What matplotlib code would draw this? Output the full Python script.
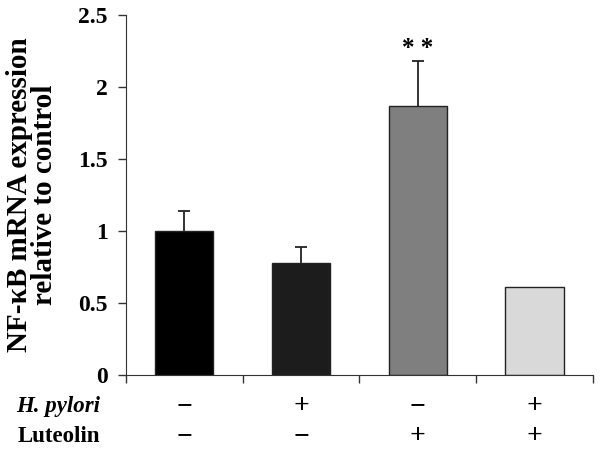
import numpy as np
import matplotlib.pyplot as plt

plt.rcParams['font.family'] = ['Liberation Serif', 'DejaVu Serif']
plt.rcParams['font.weight'] = 'bold'

values = [1.0, 0.78, 1.87, 0.61]
errors = [0.14, 0.11, 0.31, 0.0]
colors = ['#000000', '#1c1c1c', '#7f7f7f', '#d9d9d9']
hpylori = ['\u2212', '+', '\u2212', '+']
luteolin = ['\u2212', '\u2212', '+', '+']
yticks = [0, 0.5, 1, 1.5, 2, 2.5]
yticklabels = ['0', '0.5', '1', '1.5', '2', '2.5']

fig = plt.figure(figsize=(6.02, 4.54), dpi=100)
ax = fig.add_axes([0.209, 0.174, 0.776, 0.793])

x = np.arange(len(values))
ax.bar(x, values, width=0.5, color=colors, edgecolor='#222222', linewidth=1.0, zorder=2)
# upper error bars only, skip zero errors
for i in range(len(values)):
    if errors[i] > 0:
        ax.vlines(x[i], values[i], values[i] + errors[i], color='#222222', lw=1.3, zorder=1)
        ax.hlines(values[i] + errors[i], x[i] - 0.05, x[i] + 0.05, color='#222222', lw=1.3, zorder=1)
ax.text(x[2], values[2] + errors[2] + 0.09, '* *', ha='center', va='center',
        fontsize=18, fontweight='bold')

ax.set_xlim(-0.5, len(values) - 0.5)
ax.set_ylim(0, 2.5)
ax.set_yticks(yticks)
ax.set_yticklabels(yticklabels, fontsize=17, fontweight='bold')
ax.set_xticks(np.arange(len(values) + 1) - 0.5)
ax.set_xticklabels([])
ax.tick_params(axis='both', direction='out', length=6, width=1, color='#333333')
ax.tick_params(axis='y', pad=7)
for s in ['top', 'right']:
    ax.spines[s].set_visible(False)
for s in ['left', 'bottom']:
    ax.spines[s].set_color('#333333')

ax.set_ylabel('NF-\u03baB mRNA expression\nrelative to control', fontsize=21,
              fontweight='bold', linespacing=0.9)
ax.yaxis.set_label_coords(-0.146, 0.5)

# treatment table below axis
for i in range(len(values)):
    ax.text(x[i], -0.22, hpylori[i], ha='center', va='center', fontsize=20,
            clip_on=False)
    ax.text(x[i], -0.43, luteolin[i], ha='center', va='center', fontsize=20,
            clip_on=False)
ax.text(-0.72, -0.22, 'H. pylori', ha='right', va='center', fontsize=16.5,
        fontstyle='italic', fontweight='bold', clip_on=False)
ax.text(-0.72, -0.43, 'Luteolin', ha='right', va='center', fontsize=16.5,
        fontweight='bold', clip_on=False)

fig.savefig('out.png', dpi=100)
